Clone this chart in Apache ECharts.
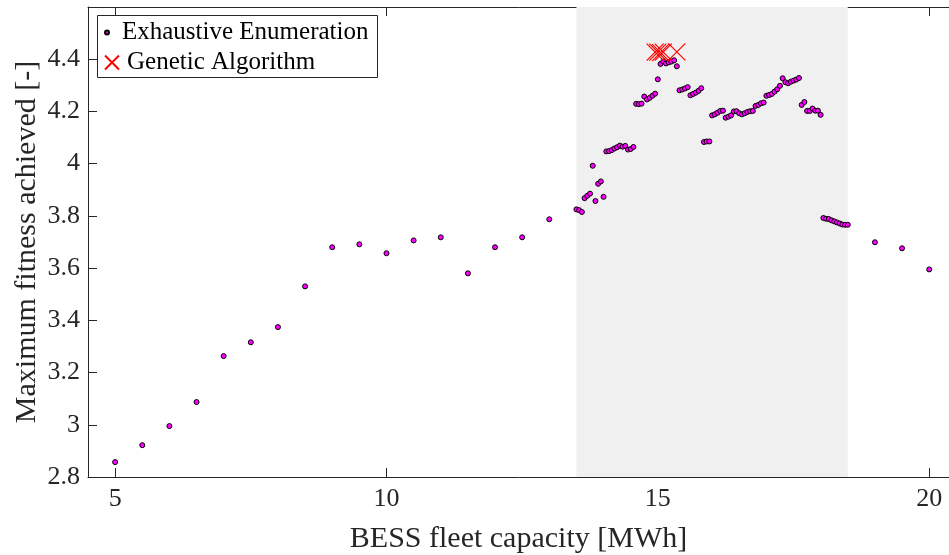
<!DOCTYPE html>
<html>
<head>
<meta charset="utf-8">
<script src="https://cdn.jsdelivr.net/npm/echarts@6/dist/echarts.min.js"></script>
<style>html,body{margin:0;padding:0;background:#fff}#c{width:949px;height:555px}</style>
</head>
<body>
<div id="c"></div>
<script>
const capacity = [5,5.5,6,6.5,7,7.5,8,8.5,9,9.5,10,10.5,11,11.5,12,12.5,13,
13.5,13.55,13.6,13.65,13.7,13.75,13.8,13.85,13.9,13.95,14,
14.05,14.1,14.15,14.2,14.25,14.3,14.35,14.4,14.45,14.5,14.55,
14.6,14.65,14.7,14.75,14.8,14.85,14.9,14.95,15,
15.05,15.1,15.15,15.2,15.25,15.3,15.35,15.4,15.45,15.5,15.55,
15.6,15.65,15.7,15.75,15.8,15.85,15.9,15.95,16,
16.05,16.1,16.15,16.2,16.25,16.3,16.35,16.4,16.45,16.5,16.55,
16.6,16.65,16.7,16.75,16.8,16.85,16.9,16.95,17,
17.05,17.1,17.15,17.2,17.25,17.3,17.35,17.4,17.45,17.5,17.55,
17.6,17.65,17.7,17.75,17.8,17.85,17.9,17.95,18,
18.05,18.1,18.15,18.2,18.25,18.3,18.35,18.4,18.45,18.5,
19,19.5,20];
const fitness = [2.857,2.922,2.995,3.087,3.263,3.316,3.374,3.530,3.680,3.691,3.657,3.706,3.718,3.580,3.680,3.718,3.787,
3.825,3.822,3.815,3.868,3.877,3.885,3.992,3.857,3.923,3.932,3.873,
4.047,4.048,4.052,4.058,4.063,4.069,4.065,4.068,4.054,4.056,4.064,
4.229,4.228,4.230,4.257,4.246,4.252,4.260,4.268,4.323,
4.382,4.391,4.384,4.388,4.391,4.396,4.373,4.281,4.284,4.288,4.293,
4.262,4.267,4.272,4.279,4.289,4.083,4.085,4.085,4.185,
4.189,4.195,4.202,4.203,4.176,4.180,4.185,4.200,4.201,4.193,4.189,
4.193,4.198,4.201,4.202,4.221,4.225,4.231,4.234,4.260,
4.263,4.267,4.276,4.285,4.298,4.327,4.312,4.308,4.314,4.318,4.322,
4.328,4.225,4.236,4.202,4.202,4.211,4.203,4.203,4.187,
3.792,3.789,3.788,3.783,3.779,3.775,3.771,3.767,3.766,3.766,
3.699,3.676,3.595];
const gaCapacity = [14.95,15.0,15.05,15.1,15.35];
const gaFitness = [4.427,4.427,4.425,4.427,4.428];
const xTicks = [5,10,15,20];
const yTicks = [2.8,3,3.2,3.4,3.6,3.8,4,4.2,4.4];
const shadeRange = [13.5,18.5];

const FONT = 'Liberation Serif';
const TXT = '#262626';
const chart = echarts.init(document.getElementById('c'));
const zip = (a,b) => a.map((v,i)=>[v,b[i]]);
const XMIN = 4.5, XMAX = 20.365;
chart.setOption({
  animation:false,
  backgroundColor:'#fff',
  grid:{left:88,top:7,right:0,bottom:78,containLabel:false,outerBoundsMode:'none'},
  xAxis:[{
    type:'value',min:XMIN,max:XMAX,position:'bottom',
    name:'BESS fleet capacity [MWh]',nameLocation:'middle',nameGap:47,nameMoveOverlap:false,
    nameTextStyle:{fontFamily:FONT,fontSize:30,color:TXT},
    axisLine:{show:true,lineStyle:{color:TXT,width:1}},
    axisTick:{show:true,inside:true,length:9,customValues:xTicks,lineStyle:{color:TXT}},
    axisLabel:{customValues:xTicks,fontFamily:FONT,fontSize:26,color:TXT,margin:9},
    splitLine:{show:false}
  },{
    type:'value',min:XMIN,max:XMAX,position:'top',
    axisLine:{show:true,onZero:false,lineStyle:{color:TXT,width:1}},
    axisTick:{show:true,inside:true,length:9,customValues:xTicks,lineStyle:{color:TXT}},
    axisLabel:{show:false},splitLine:{show:false}
  }],
  yAxis:{
    type:'value',min:2.8,max:4.6,
    name:'Maximum fitness achieved [-]',nameLocation:'middle',nameGap:46,nameMoveOverlap:false,
    nameTextStyle:{fontFamily:FONT,fontSize:30,color:TXT},
    axisLine:{show:true,lineStyle:{color:TXT,width:1}},
    axisTick:{show:true,inside:true,length:9,customValues:yTicks,lineStyle:{color:TXT}},
    axisLabel:{customValues:yTicks,fontFamily:FONT,fontSize:26,color:TXT,margin:8},
    splitLine:{show:false}
  },
  legend:[{
    data:['Exhaustive Enumeration'],left:104,top:20,padding:0,
    itemWidth:14,itemHeight:4,
    textStyle:{fontFamily:FONT,fontSize:25,color:'#000',padding:[0,0,0,3]}
  },{
    data:['Genetic Algorithm'],left:104,top:50,padding:0,
    itemWidth:14,itemHeight:15,
    textStyle:{fontFamily:FONT,fontSize:25,color:'#000',padding:[0,0,0,3]}
  }],
  graphic:[{
    type:'rect',left:97,top:15,z:-1,
    shape:{width:280,height:62},
    style:{fill:'#fff',stroke:TXT,lineWidth:1}
  }],
  series:[{
    name:'Exhaustive Enumeration',type:'scatter',
    data:zip(capacity,fitness),
    symbol:'circle',symbolSize:5,
    itemStyle:{color:'#ff00ff',borderColor:'#000',borderWidth:1,opacity:1},
    markArea:{silent:true,itemStyle:{color:'#f0f0f0'},
      data:[[{xAxis:shadeRange[0],yAxis:2.8},{xAxis:shadeRange[1],yAxis:4.6}]]},
    z:3
  },{
    name:'Genetic Algorithm',type:'scatter',
    data:zip(gaCapacity,gaFitness),
    symbol:'path://M0,0L10,10M10,0L0,10',symbolSize:17,
    itemStyle:{color:'transparent',borderColor:'#ff0000',borderWidth:1.2,opacity:1},
    z:4
  }]
});
</script>
</body>
</html>
